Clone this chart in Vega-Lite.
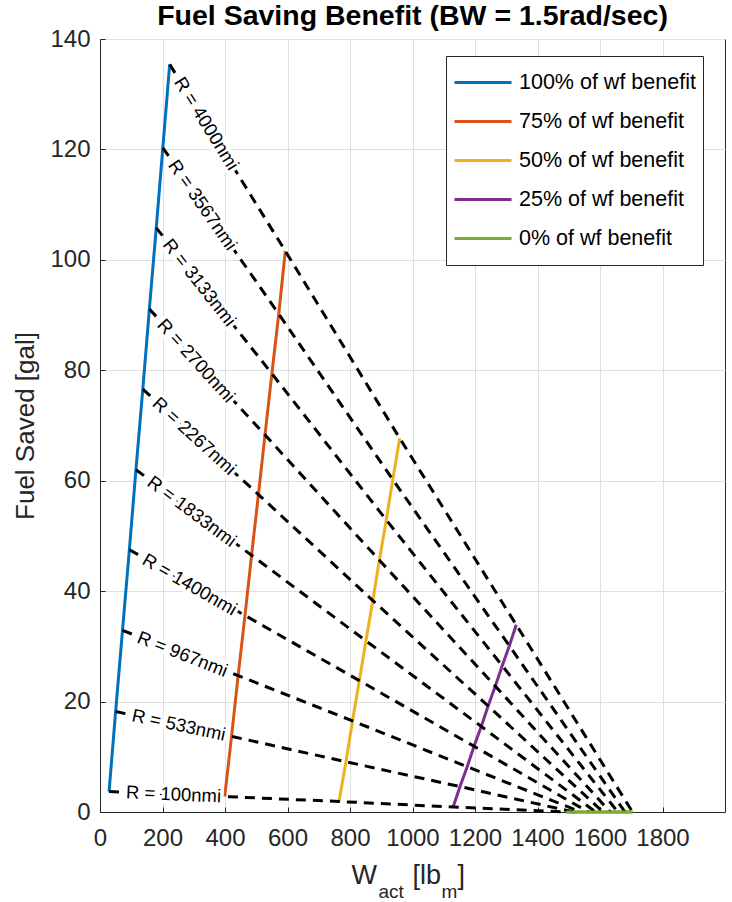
{
  "$schema": "https://vega.github.io/schema/vega-lite/v6.json",
  "autosize": {"type": "none"},
  "width": 625,
  "height": 773,
  "padding": {"left": 100, "top": 39, "right": 7, "bottom": 90},
  "background": "white",
  "title": {"text": "Fuel Saving Benefit (BW = 1.5rad/sec)", "fontSize": 28.5, "fontWeight": "bold", "font": "Liberation Sans", "color": "black", "anchor": "middle", "frame": "group", "baseline": "alphabetic", "offset": -26},
  "config": {
    "font": "Liberation Sans",
    "view": {"stroke": "#262626", "strokeWidth": 1},
    "axis": {"labelFont": "Liberation Sans", "titleFont": "Liberation Sans", "labelColor": "#262626", "titleColor": "#262626", "domainColor": "#262626", "tickColor": "#262626", "gridColor": "#dfdfdf", "gridWidth": 1}
  },
  "data": {"values": [
    {"R": 100, "pct": 100, "w": 29, "fuel": 3.7},
    {"R": 100, "pct": 75, "w": 399, "fuel": 2.8},
    {"R": 100, "pct": 50, "w": 765, "fuel": 1.9},
    {"R": 100, "pct": 25, "w": 1130, "fuel": 0.9},
    {"R": 100, "pct": 0, "w": 1492, "fuel": 0},
    {"R": 533, "pct": 100, "w": 50, "fuel": 18.2},
    {"R": 533, "pct": 75, "w": 421, "fuel": 13.7},
    {"R": 533, "pct": 50, "w": 787, "fuel": 9.1},
    {"R": 533, "pct": 25, "w": 1152, "fuel": 4.6},
    {"R": 533, "pct": 0, "w": 1516, "fuel": 0},
    {"R": 967, "pct": 100, "w": 72, "fuel": 32.9},
    {"R": 967, "pct": 75, "w": 442, "fuel": 24.7},
    {"R": 967, "pct": 50, "w": 808, "fuel": 16.5},
    {"R": 967, "pct": 25, "w": 1175, "fuel": 8.2},
    {"R": 967, "pct": 0, "w": 1539, "fuel": 0},
    {"R": 1400, "pct": 100, "w": 94, "fuel": 47.5},
    {"R": 1400, "pct": 75, "w": 464, "fuel": 35.6},
    {"R": 1400, "pct": 50, "w": 830, "fuel": 23.8},
    {"R": 1400, "pct": 25, "w": 1197, "fuel": 11.9},
    {"R": 1400, "pct": 0, "w": 1563, "fuel": 0},
    {"R": 1833, "pct": 100, "w": 115, "fuel": 62.0},
    {"R": 1833, "pct": 75, "w": 485, "fuel": 46.5},
    {"R": 1833, "pct": 50, "w": 851, "fuel": 31.0},
    {"R": 1833, "pct": 25, "w": 1220, "fuel": 15.5},
    {"R": 1833, "pct": 0, "w": 1586, "fuel": 0},
    {"R": 2267, "pct": 100, "w": 137, "fuel": 76.6},
    {"R": 2267, "pct": 75, "w": 507, "fuel": 57.5},
    {"R": 2267, "pct": 50, "w": 873, "fuel": 38.3},
    {"R": 2267, "pct": 25, "w": 1242, "fuel": 19.2},
    {"R": 2267, "pct": 0, "w": 1610, "fuel": 0},
    {"R": 2700, "pct": 100, "w": 158, "fuel": 91.1},
    {"R": 2700, "pct": 75, "w": 528, "fuel": 68.3},
    {"R": 2700, "pct": 50, "w": 894, "fuel": 45.6},
    {"R": 2700, "pct": 25, "w": 1265, "fuel": 22.8},
    {"R": 2700, "pct": 0, "w": 1633, "fuel": 0},
    {"R": 3133, "pct": 100, "w": 180, "fuel": 105.8},
    {"R": 3133, "pct": 75, "w": 550, "fuel": 79.4},
    {"R": 3133, "pct": 50, "w": 916, "fuel": 52.9},
    {"R": 3133, "pct": 25, "w": 1287, "fuel": 26.5},
    {"R": 3133, "pct": 0, "w": 1657, "fuel": 0},
    {"R": 3567, "pct": 100, "w": 201, "fuel": 120.3},
    {"R": 3567, "pct": 75, "w": 572, "fuel": 90.2},
    {"R": 3567, "pct": 50, "w": 937, "fuel": 60.2},
    {"R": 3567, "pct": 25, "w": 1310, "fuel": 30.1},
    {"R": 3567, "pct": 0, "w": 1680, "fuel": 0},
    {"R": 4000, "pct": 100, "w": 223, "fuel": 135.4},
    {"R": 4000, "pct": 75, "w": 593, "fuel": 101.6},
    {"R": 4000, "pct": 50, "w": 959, "fuel": 67.7},
    {"R": 4000, "pct": 25, "w": 1332, "fuel": 33.9},
    {"R": 4000, "pct": 0, "w": 1704, "fuel": 0}
  ]},
  "encoding": {
    "y": {"field": "fuel", "type": "quantitative", "scale": {"domain": [0, 140], "nice": false},
      "axis": {"title": "Fuel Saved [gal]", "values": [0, 20, 40, 60, 80, 100, 120, 140], "grid": true, "tickSize": -5, "labelPadding": 15, "labelFontSize": 24, "titleFontSize": 26, "titleFontWeight": "normal", "titleX": -67, "titleY": 386.5, "titleBaseline": "alphabetic", "titleAngle": -90, "titleAlign": "center"}}
  },
  "layer": [
    {
      "mark": {"type": "line", "strokeWidth": 3},
      "encoding": {
        "x": {"field": "w", "type": "quantitative", "scale": {"domain": [0, 2000], "nice": false},
          "axis": {"orient": "bottom", "values": [0, 200, 400, 600, 800, 1000, 1200, 1400, 1600, 1800], "format": "d", "grid": true, "tickSize": -5, "labelPadding": 19, "labelFontSize": 24, "labelFlush": false, "labelOverlap": false, "title": "W", "titleFontSize": 27, "titleFontWeight": "normal", "titleX": 251, "titleY": 71, "titleAlign": "left", "titleBaseline": "alphabetic", "titleAnchor": null}},
        "color": {"field": "pct", "type": "nominal",
          "scale": {"domain": [100, 75, 50, 25, 0], "range": ["#0072BD", "#D95319", "#EDB120", "#7E2F8E", "#77AC30"]},
          "legend": {"orient": "none", "legendX": 346, "legendY": 17, "title": null, "labelExpr": "datum.value + '% of wf benefit'", "labelFontSize": 21.5, "labelLimit": 400, "labelColor": "black", "symbolType": "stroke", "symbolSize": 3249, "symbolStrokeWidth": 3, "labelOffset": 6, "strokeColor": "#262626", "fillColor": "white", "padding": 7, "rowPadding": 0, "clipHeight": 39}},
        "order": {"field": "R", "type": "quantitative"}
      }
    },
    {
      "mark": {"type": "line", "color": "black", "strokeWidth": 3, "strokeDash": [10, 7]},
      "encoding": {
        "x": {"field": "w", "type": "quantitative",
          "axis": {"orient": "bottom", "labels": false, "ticks": false, "domain": false, "grid": false, "title": "act", "titleFontSize": 19, "titleFontWeight": "normal", "titleX": 278, "titleY": 85, "titleAlign": "left", "titleBaseline": "alphabetic", "titleAnchor": null}},
        "detail": {"field": "R", "type": "nominal"},
        "order": {"field": "w", "type": "quantitative"}
      }
    },
    {
      "transform": [{"filter": "datum.pct === 100"}, {"calculate": "'R = ' + datum.R + 'nmi'", "as": "label"}],
      "mark": {"type": "text", "align": "left", "baseline": "middle", "dx": 17, "fontSize": 18.5, "color": "white", "stroke": "white", "strokeWidth": 7, "strokeJoin": "round"},
      "encoding": {
        "x": {"field": "w", "type": "quantitative",
          "axis": {"orient": "bottom", "labels": false, "ticks": false, "domain": false, "grid": false, "title": "[lb", "titleFontSize": 27, "titleFontWeight": "normal", "titleX": 312, "titleY": 71, "titleAlign": "left", "titleBaseline": "alphabetic", "titleAnchor": null}},
        "text": {"field": "label"},
        "angle": {"field": "R", "type": "quantitative", "scale": {"type": "linear", "domain": [100, 533, 967, 1400, 1833, 2267, 2700, 3133, 3567, 4000], "range": [2.5, 12.1, 21.6, 30, 36.7, 42.4, 47.9, 51.7, 55.2, 58.2]}, "legend": null}
      }
    },
    {
      "transform": [{"filter": "datum.pct === 100"}, {"calculate": "'R = ' + datum.R + 'nmi'", "as": "label"}],
      "mark": {"type": "text", "align": "left", "baseline": "middle", "dx": 17, "fontSize": 18.5, "color": "black"},
      "encoding": {
        "x": {"field": "w", "type": "quantitative",
          "axis": {"orient": "bottom", "labels": false, "ticks": false, "domain": false, "grid": false, "title": "m", "titleFontSize": 19, "titleFontWeight": "normal", "titleX": 341, "titleY": 85, "titleAlign": "left", "titleBaseline": "alphabetic", "titleAnchor": null}},
        "text": {"field": "label"},
        "angle": {"field": "R", "type": "quantitative", "scale": {"type": "linear", "domain": [100, 533, 967, 1400, 1833, 2267, 2700, 3133, 3567, 4000], "range": [2.5, 12.1, 21.6, 30, 36.7, 42.4, 47.9, 51.7, 55.2, 58.2]}, "legend": null}
      }
    },
    {
      "transform": [{"filter": "datum.pct === 0"}],
      "mark": {"type": "line", "strokeWidth": 3},
      "encoding": {
        "x": {"field": "w", "type": "quantitative",
          "axis": {"orient": "bottom", "labels": false, "ticks": false, "domain": false, "grid": false, "title": "]", "titleFontSize": 27, "titleFontWeight": "normal", "titleX": 357, "titleY": 71, "titleAlign": "left", "titleBaseline": "alphabetic", "titleAnchor": null}},
        "color": {"field": "pct", "type": "nominal"},
        "order": {"field": "R", "type": "quantitative"}
      }
    }
  ],
  "resolve": {"axis": {"x": "independent"}}
}
